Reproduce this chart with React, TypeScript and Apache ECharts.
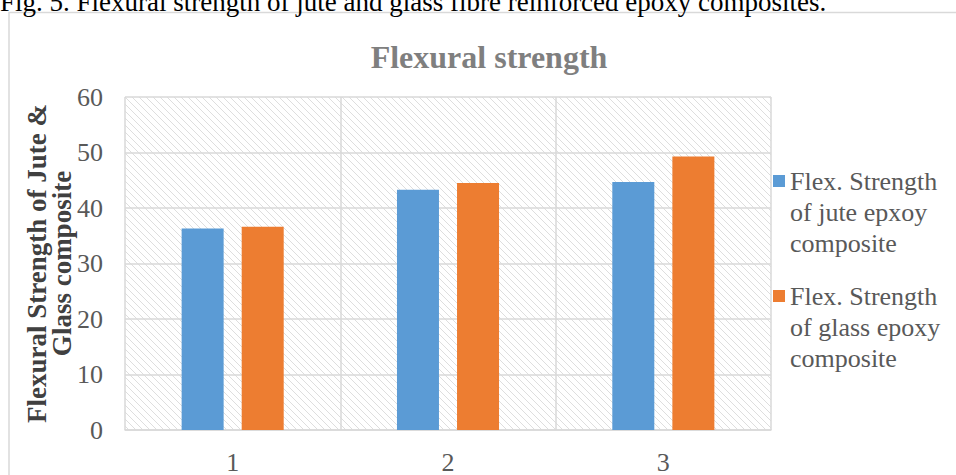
import React, { useEffect, useRef } from "react";
import * as echarts from "echarts";

const categories = ["1", "2", "3"];
const juteStrength = [36.3, 43.3, 44.7];
const glassStrength = [36.6, 44.5, 49.3];
const yTicks = { min: 0, max: 60, interval: 10 };

const seriesNames = [
  "Flex. Strength\nof jute epxoy\ncomposite",
  "Flex. Strength\nof glass epoxy\ncomposite",
];

const SERIF = "'Liberation Serif', 'Times New Roman', serif";

// Light diagonal hatch used to fill the plot area
function hatchPattern(): string {
  const size = 7;
  const c = document.createElement("canvas");
  c.width = size;
  c.height = size;
  const ctx = c.getContext("2d")!;
  ctx.strokeStyle = "#dedede";
  ctx.lineWidth = 1;
  ctx.beginPath();
  ctx.moveTo(-1, -1);
  ctx.lineTo(size + 1, size + 1);
  ctx.moveTo(-1, size - 1);
  ctx.lineTo(1, size + 1);
  ctx.moveTo(size - 1, -1);
  ctx.lineTo(size + 1, 1);
  ctx.stroke();
  return c.toDataURL();
}

export default function App() {
  const ref = useRef<HTMLDivElement>(null);

  useEffect(() => {
    if (!ref.current) return;
    const chart = echarts.init(ref.current, undefined, { renderer: "svg" });
    chart.setOption({
      animation: false,
      backgroundColor: "#ffffff",
      title: {
        text: "Flexural strength",
        left: 484,
        top: 36,
        textAlign: "center",
        textStyle: {
          fontFamily: SERIF,
          fontSize: 32,
          fontWeight: "bold",
          color: "#7f7f7f",
        },
      },
      graphic: [
        {
          type: "text",
          left: 0,
          top: -12,
          style: {
            text: "Fig. 5. Flexural strength of jute and glass fibre reinforced epoxy composites.",
            fontFamily: SERIF,
            fontSize: 27,
            fill: "#000000",
          },
        },
        {
          type: "rect",
          shape: { x: 9, y: 12.5, width: 1000, height: 500 },
          style: { fill: "none", stroke: "#d9d9d9", lineWidth: 1.5 },
          silent: true,
          z: -1,
        },
      ],
      legend: {
        orient: "vertical",
        left: 773,
        top: 103.5,
        padding: 0,
        itemWidth: 12,
        itemHeight: 12,
        itemGap: -40,
        icon: "rect",
        // two blank lines ahead of each name put the marker beside the first line
        formatter: (name: string) => "\n\n" + name,
        textStyle: {
          fontFamily: SERIF,
          fontSize: 26,
          lineHeight: 31,
          color: "#595959",
        },
        data: seriesNames,
      },
      grid: {
        left: 125,
        right: 185,
        top: 97,
        bottom: 44,
        show: true,
        borderWidth: 0,
        backgroundColor: { image: hatchPattern(), repeat: "repeat" },
      },
      xAxis: {
        type: "category",
        data: categories,
        axisLine: { show: true, lineStyle: { color: "#d9d9d9", width: 1.5 } },
        axisTick: { show: false },
        splitLine: { show: true, lineStyle: { color: "#d9d9d9", width: 1.5 } },
        axisLabel: {
          margin: 19,
          fontFamily: SERIF,
          fontSize: 26,
          color: "#595959",
        },
      },
      yAxis: {
        type: "value",
        min: yTicks.min,
        max: yTicks.max,
        interval: yTicks.interval,
        name: "Flexural Strength of Jute &\nGlass composite",
        nameLocation: "middle",
        nameGap: 51,
        nameMoveOverlap: false,
        nameTextStyle: {
          fontFamily: SERIF,
          fontSize: 27,
          fontWeight: "bold",
          color: "#404040",
          lineHeight: 25,
        },
        axisLine: { show: false },
        axisTick: { show: false },
        splitLine: { show: true, lineStyle: { color: "#d9d9d9", width: 1.5 } },
        axisLabel: {
          margin: 22,
          fontFamily: SERIF,
          fontSize: 26,
          color: "#595959",
        },
      },
      series: [
        {
          name: seriesNames[0],
          type: "bar",
          data: juteStrength,
          barWidth: 42,
          barGap: "43%",
          itemStyle: { color: "#5b9bd5" },
        },
        {
          name: seriesNames[1],
          type: "bar",
          data: glassStrength,
          barWidth: 42,
          itemStyle: { color: "#ed7d31" },
        },
      ],
    });
    return () => chart.dispose();
  }, []);

  return (
    <div
      ref={ref}
      style={{ position: "absolute", left: 0, top: 0, width: 956, height: 475 }}
    />
  );
}
